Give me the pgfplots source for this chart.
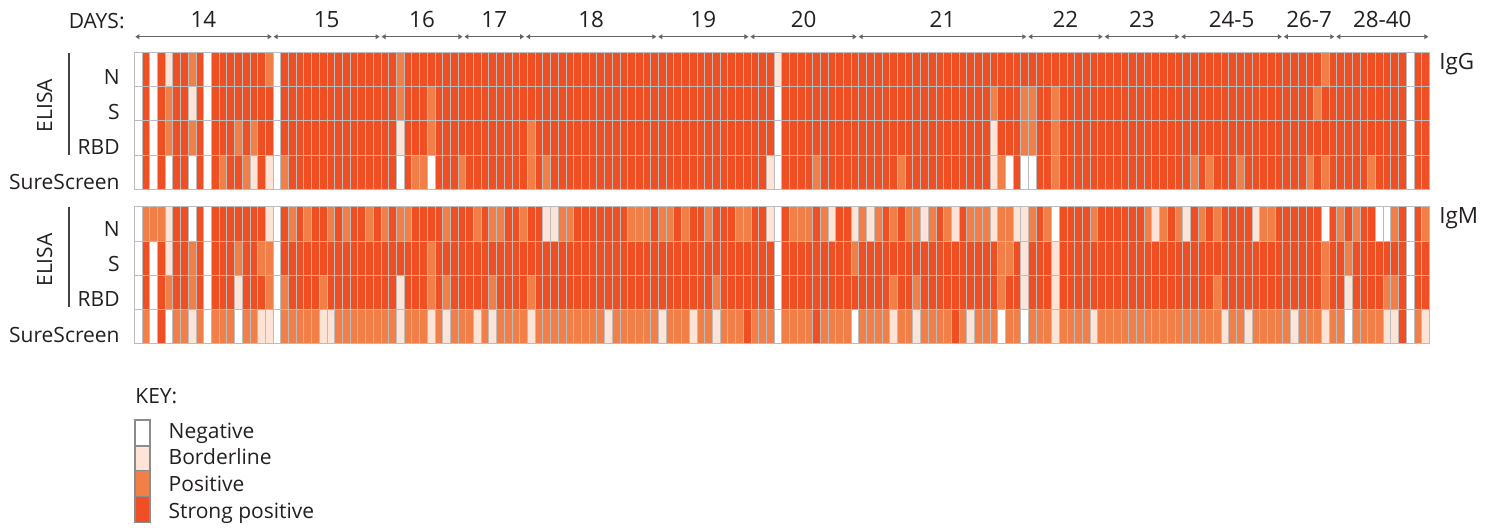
\documentclass[border=0pt]{standalone}
\usepackage{pgfplots}
\pgfplotsset{compat=1.18}
\usepackage{pgfplotstable}
\usetikzlibrary{arrows.meta}
\usepackage{fontspec}
\setmainfont{Open Sans}
\definecolor{cNeg}{RGB}{255,255,255}
\definecolor{cBord}{RGB}{253,228,214}
\definecolor{cPos}{RGB}{243,127,72}
\definecolor{cStr}{RGB}{240,79,35}
\definecolor{cGrid}{RGB}{188,188,188}
\definecolor{cKey}{RGB}{140,140,140}
\definecolor{cTxt}{RGB}{35,31,32}
\definecolor{cArr}{RGB}{100,100,100}

% 0 = negative, 1 = borderline, 2 = positive, 3 = strong positive
\pgfplotstableread{
c gN gS gR gSS mN mS mR mSS
0 0 0 0 0 0 0 0 0
1 3 3 3 3 2 3 3 2
2 0 0 0 0 2 0 0 0
3 3 3 3 3 2 3 3 3
4 1 2 2 0 1 1 2 0
5 3 3 3 3 3 3 3 2
6 3 3 3 3 3 3 3 2
7 2 1 2 0 0 2 2 1
8 3 3 3 3 3 3 3 2
9 0 0 0 0 0 0 0 0
10 3 3 3 3 3 3 3 2
11 3 3 3 2 3 3 3 2
12 3 3 3 3 3 3 3 2
13 3 3 2 3 3 2 1 0
14 3 3 3 2 3 3 3 2
15 3 3 2 1 3 3 3 2
16 3 3 3 3 3 2 3 1
17 2 3 3 1 1 2 2 1
18 0 0 0 0 0 0 0 0
19 3 3 3 2 3 3 2 2
20 3 3 3 3 2 3 3 2
21 3 3 3 3 3 3 3 2
22 3 3 3 3 2 3 3 2
23 3 3 3 3 3 3 3 2
24 3 3 3 3 3 3 2 1
25 3 3 3 3 2 3 3 1
26 3 3 3 3 3 3 3 2
27 3 3 3 3 2 3 3 2
28 3 3 3 3 3 3 3 2
29 3 3 3 3 3 3 3 2
30 3 3 3 3 2 3 3 2
31 3 3 3 3 3 3 3 2
32 3 3 3 3 2 3 3 2
33 3 3 3 3 3 3 3 2
34 2 2 1 0 2 3 1 1
35 3 3 3 3 2 3 3 2
36 3 3 3 2 3 3 3 2
37 3 3 3 2 3 3 3 2
38 3 2 2 0 3 2 2 1
39 3 3 3 3 3 3 3 2
40 3 3 3 3 2 3 2 1
41 3 3 3 3 3 3 3 2
42 3 3 3 2 3 3 3 2
43 3 3 3 3 3 3 3 2
44 3 3 3 3 2 3 3 1
45 3 3 3 3 3 3 3 2
46 3 3 3 3 2 3 2 1
47 3 3 3 3 2 3 3 2
48 3 3 3 3 3 3 3 2
49 3 3 3 3 3 3 3 2
50 3 3 3 3 2 3 3 2
51 3 3 2 2 3 3 2 1
52 3 3 3 3 3 3 3 2
53 3 3 3 2 1 3 3 2
54 3 3 3 3 1 3 3 2
55 3 3 3 3 2 3 3 2
56 3 3 3 3 2 3 3 2
57 3 3 3 3 3 3 3 2
58 3 3 3 3 3 3 3 2
59 3 3 3 3 3 3 3 2
60 3 3 3 3 3 3 3 2
61 3 3 3 3 3 3 3 1
62 3 3 3 3 3 3 3 2
63 3 3 3 3 3 3 3 2
64 3 3 3 3 2 3 3 2
65 3 3 3 3 2 3 3 2
66 3 3 3 3 2 3 3 2
67 3 3 3 3 3 3 3 2
68 3 3 3 3 2 3 3 1
69 3 3 3 3 2 3 3 2
70 3 3 3 3 3 3 3 2
71 3 3 3 3 2 3 3 2
72 3 3 3 3 3 3 3 1
73 3 3 3 3 3 3 3 2
74 3 3 3 3 2 3 3 2
75 3 3 3 3 3 3 2 1
76 3 3 3 3 3 3 3 2
77 3 3 3 3 3 3 3 2
78 3 3 3 3 2 3 3 2
79 3 3 3 3 2 3 3 3
80 3 3 3 3 3 3 3 2
81 3 3 3 3 3 3 3 2
82 3 3 3 1 1 3 3 2
83 1 0 0 0 0 0 0 0
84 3 3 3 3 3 3 3 2
85 3 3 3 3 2 3 3 2
86 3 3 3 3 2 3 3 2
87 3 3 3 3 2 3 3 2
88 3 3 3 2 3 3 3 3
89 3 3 3 3 2 3 3 2
90 3 3 3 3 1 3 3 2
91 3 3 3 3 3 3 3 2
92 3 3 3 3 3 3 3 2
93 3 3 3 3 1 2 3 0
94 3 3 3 3 2 3 3 2
95 3 3 3 3 1 3 3 2
96 3 3 3 3 2 3 3 2
97 3 3 3 3 3 3 3 2
98 3 3 3 3 2 3 2 1
99 3 3 3 2 3 3 3 2
100 3 3 3 3 2 3 3 2
101 3 3 3 3 2 3 2 1
102 3 3 3 3 1 3 3 2
103 3 3 3 3 2 3 3 2
104 3 3 3 3 3 3 3 2
105 3 3 3 3 2 3 3 2
106 3 3 3 3 1 3 3 3
107 3 3 3 3 3 3 3 2
108 3 3 3 3 2 3 3 1
109 3 3 3 3 2 3 3 2
110 3 3 3 3 2 3 3 2
111 3 2 1 1 1 3 3 2
112 3 3 3 2 2 2 2 0
113 3 3 3 0 2 2 3 2
114 3 3 3 3 1 3 3 2
115 3 2 2 0 1 1 1 0
116 3 2 2 0 2 3 3 2
117 3 3 3 3 3 3 3 2
118 3 3 3 3 2 3 3 2
119 3 2 2 2 0 1 1 1
120 3 3 3 3 3 3 3 2
121 3 3 3 3 3 3 3 2
122 3 3 3 3 3 3 3 2
123 3 3 3 3 3 3 3 2
124 3 3 3 3 2 3 3 1
125 3 3 3 3 3 3 3 2
126 3 3 3 3 3 3 3 2
127 3 3 3 3 3 3 3 2
128 3 3 3 3 3 3 3 2
129 3 3 3 3 3 3 3 2
130 3 3 3 3 3 3 3 2
131 3 3 3 3 2 3 3 2
132 3 3 3 3 1 3 3 2
133 3 3 3 3 2 3 3 2
134 3 3 3 3 3 3 3 2
135 3 3 3 3 2 3 3 2
136 3 3 3 3 1 3 3 2
137 3 3 3 2 3 3 3 2
138 3 3 3 3 2 3 3 2
139 3 3 3 2 3 3 3 2
140 3 3 3 3 2 3 2 2
141 3 3 3 3 3 3 3 1
142 3 3 3 3 3 3 3 2
143 3 3 3 2 3 3 3 2
144 3 3 3 3 3 3 3 1
145 3 3 3 3 1 3 3 2
146 3 3 3 3 2 3 3 2
147 3 3 3 3 2 3 3 2
148 3 3 3 3 3 3 3 2
149 3 3 3 3 3 3 3 2
150 3 3 3 3 3 3 3 1
151 3 3 3 3 3 3 3 2
152 3 3 3 2 3 3 3 2
153 3 2 3 3 3 3 3 2
154 2 3 3 2 0 2 2 1
155 3 3 3 3 3 3 3 2
156 3 3 3 3 2 3 3 2
157 3 3 3 3 3 2 1 0
158 3 3 3 3 2 3 3 2
159 3 3 3 3 3 3 3 2
160 3 3 3 2 3 3 3 2
161 3 3 3 3 0 3 3 2
162 3 3 3 3 0 3 2 1
163 3 3 3 3 2 3 2 1
164 3 3 3 3 3 3 3 3
165 0 0 0 0 0 0 0 0
166 3 3 3 3 3 3 3 2
167 3 3 3 3 2 3 3 1
}\cells

\newdimen\cellw \cellw=3.85417pt
\newdimen\cellh \cellh=17.1pt
\pgfdeclareplotmark{cell}{%
  \pgfpathrectangle{\pgfpoint{-0.5\cellw}{-0.5\cellh}}{\pgfpoint{\cellw}{\cellh}}%
  \pgfusepathqfillstroke}

\pgfplotsset{
  cellrow/.style={scatter, only marks, scatter src=explicit symbolic,
    scatter/classes={
      0={mark=cell, draw=cGrid, fill=cNeg, line width=0.4pt},
      1={mark=cell, draw=cGrid, fill=cBord, line width=0.4pt},
      2={mark=cell, draw=cGrid, fill=cPos, line width=0.4pt},
      3={mark=cell, draw=cGrid, fill=cStr, line width=0.4pt}}},
  panel/.style={width=647.5pt, height=68.4pt, scale only axis,
    xmin=-0.5, xmax=167.5, ymin=-0.5, ymax=3.5, hide axis, clip=false},
}
\tikzset{
  lab/.style={text=cTxt, font=\fontsize{10.5}{12}\selectfont, inner sep=0pt},
  big/.style={text=cTxt, font=\fontsize{11.2}{13}\selectfont, inner sep=0pt},
  dayarrow/.style={draw=cArr, line width=0.5pt,
    {Triangle[length=2pt,width=2.4pt]}-{Triangle[length=2pt,width=2.4pt]},
    shorten <=0.5pt, shorten >=0.5pt},
}

\begin{document}
\begin{tikzpicture}
\useasboundingbox (0pt,0pt) rectangle (747pt,263.5pt);

% ---------------- IgG panel ----------------
\begin{axis}[panel, at={(67.15pt,237.35pt)}, anchor=north west]
\addplot[cellrow] table[x=c, y expr=3, meta=gN]  {\cells};
\addplot[cellrow] table[x=c, y expr=2, meta=gS]  {\cells};
\addplot[cellrow] table[x=c, y expr=1, meta=gR]  {\cells};
\addplot[cellrow] table[x=c, y expr=0, meta=gSS] {\cells};
% day groups
\draw[dayarrow] (axis cs:-0.5,3.956)   -- (axis cs:17.45,3.956);
\draw[dayarrow] (axis cs:17.45,3.956)  -- (axis cs:31.45,3.956);
\draw[dayarrow] (axis cs:31.45,3.956)  -- (axis cs:42.2,3.956);
\draw[dayarrow] (axis cs:42.2,3.956)   -- (axis cs:50.2,3.956);
\draw[dayarrow] (axis cs:50.2,3.956)   -- (axis cs:67.35,3.956);
\draw[dayarrow] (axis cs:67.35,3.956)  -- (axis cs:79.3,3.956);
\draw[dayarrow] (axis cs:79.3,3.956)   -- (axis cs:93.35,3.956);
\draw[dayarrow] (axis cs:93.35,3.956)  -- (axis cs:115.35,3.956);
\draw[dayarrow] (axis cs:115.35,3.956) -- (axis cs:125.25,3.956);
\draw[dayarrow] (axis cs:125.25,3.956) -- (axis cs:135.2,3.956);
\draw[dayarrow] (axis cs:135.2,3.956)  -- (axis cs:148.5,3.956);
\draw[dayarrow] (axis cs:148.5,3.956)  -- (axis cs:155.3,3.956);
\draw[dayarrow] (axis cs:155.3,3.956)  -- (axis cs:167.5,3.956);
\node[big, anchor=mid] at (axis cs:8.475,4.38)  {14};
\node[big, anchor=mid] at (axis cs:24.45,4.38)  {15};
\node[big, anchor=mid] at (axis cs:36.825,4.38) {16};
\node[big, anchor=mid] at (axis cs:46.2,4.38)   {17};
\node[big, anchor=mid] at (axis cs:58.775,4.38) {18};
\node[big, anchor=mid] at (axis cs:73.325,4.38) {19};
\node[big, anchor=mid] at (axis cs:86.325,4.38) {20};
\node[big, anchor=mid] at (axis cs:104.35,4.38) {21};
\node[big, anchor=mid] at (axis cs:120.3,4.38)  {22};
\node[big, anchor=mid] at (axis cs:130.225,4.38){23};
\node[big, anchor=mid] at (axis cs:141.85,4.38) {24-5};
\node[big, anchor=mid] at (axis cs:151.9,4.38)  {26-7};
\node[big, anchor=mid] at (axis cs:161.4,4.38)  {28-40};
\end{axis}

% ---------------- IgM panel ----------------
\begin{axis}[panel, at={(67.15pt,160.15pt)}, anchor=north west]
\addplot[cellrow] table[x=c, y expr=3, meta=mN]  {\cells};
\addplot[cellrow] table[x=c, y expr=2, meta=mS]  {\cells};
\addplot[cellrow] table[x=c, y expr=1, meta=mR]  {\cells};
\addplot[cellrow] table[x=c, y expr=0, meta=mSS] {\cells};
\end{axis}

% ---------------- labels ----------------
\node[lab, anchor=mid east] at (62.5pt,251.7pt) {DAYS:};
\node[big, anchor=mid west] at (719.5pt,231.65pt) {IgG};
\node[big, anchor=mid west] at (719.5pt,154.45pt) {IgM};

\node[lab, anchor=mid east] at (60pt,223.9pt) {N};
\node[lab, anchor=mid east] at (60pt,206.3pt) {S};
\node[lab, anchor=mid east] at (60pt,188.7pt) {RBD};
\node[lab, anchor=mid east] at (60pt,171.2pt) {SureScreen};
\node[lab, rotate=90, anchor=center] at (22.35pt,210.6pt) {ELISA};
\draw[cTxt!85, line width=0.6pt] (34.5pt,236.8pt) -- (34.5pt,186pt);

\node[lab, anchor=mid east] at (60pt,148pt) {N};
\node[lab, anchor=mid east] at (60pt,130.4pt) {S};
\node[lab, anchor=mid east] at (60pt,112.7pt) {RBD};
\node[lab, anchor=mid east] at (60pt,95pt) {SureScreen};
\node[lab, rotate=90, anchor=center] at (22.35pt,133.5pt) {ELISA};
\draw[cTxt!85, line width=0.6pt] (34.5pt,160.2pt) -- (34.5pt,110.2pt);

% ---------------- key ----------------
\node[lab, anchor=mid west] at (67.5pt,64.65pt) {KEY:};
\filldraw[fill=cNeg,  draw=cKey, line width=0.6pt] (67.5pt,53.5pt)  rectangle (75pt,40.5pt);
\filldraw[fill=cBord, draw=cKey, line width=0.6pt] (67.5pt,40.5pt)  rectangle (75pt,28.15pt);
\filldraw[fill=cPos,  draw=cKey, line width=0.6pt] (67.5pt,28.15pt) rectangle (75pt,15.15pt);
\filldraw[fill=cStr,  draw=cKey, line width=0.6pt] (67.5pt,15.15pt) rectangle (75pt,2.15pt);
\node[lab, anchor=mid west] at (84.15pt,46.7pt)  {Negative};
\node[lab, anchor=mid west] at (84.15pt,33.8pt)  {Borderline};
\node[lab, anchor=mid west] at (84.15pt,20.65pt) {Positive};
\node[lab, anchor=mid west] at (84.15pt,7.15pt)  {Strong positive};
\end{tikzpicture}
\end{document}
